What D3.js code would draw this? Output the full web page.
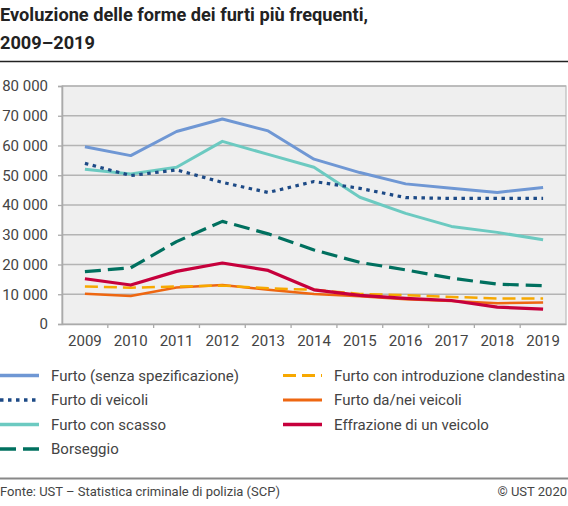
<!DOCTYPE html>
<html>
<head>
<meta charset="utf-8">
<script src="https://cdn.jsdelivr.net/npm/d3@7"></script>
<style>
  body { margin: 0; background: #fff; }
  svg { font-family: Roboto, "Noto Sans", sans-serif; display: block; }
</style>
</head>
<body>
<div id="chart"></div>
<script>
var width = 568,
    height = 506;

var years = [2009, 2010, 2011, 2012, 2013, 2014, 2015, 2016, 2017, 2018, 2019];
var yTicks = [0, 10000, 20000, 30000, 40000, 50000, 60000, 70000, 80000];

// values
var furtoSenza      = [59600, 56600, 64700, 68900, 64900, 55400, 50900, 47100, 45600, 44200, 45900];
var furtoVeicoli    = [54000, 49900, 51800, 47600, 44200, 47900, 45600, 42500, 42200, 42200, 42200];
var furtoScasso     = [52000, 50400, 52700, 61400, 57000, 52700, 42600, 37200, 32800, 30800, 28300];
var borseggio       = [17600, 18900, 27700, 34500, 30300, 24900, 20700, 18200, 15400, 13400, 12900];
var introduzione    = [12600, 12200, 12600, 12900, 12000, 11500, 10100, 9700, 9100, 8600, 8600];
var daNeiVeicoli    = [10200, 9400, 12300, 13100, 11500, 10100, 9300, 8300, 7700, 7000, 7200];
var effrazione      = [15200, 13100, 17700, 20500, 18000, 11500, 9600, 8600, 7900, 5700, 5000];

var seriesNames = ["Furto (senza spezificazione)", "Furto di veicoli", "Furto con scasso", "Borseggio",
                   "Furto con introduzione clandestina", "Furto da/nei veicoli", "Effrazione di un veicolo"];

var series = [
  {name: seriesNames[0], values: furtoSenza,   color: "#6f97d4", w: 3,   dash: null},
  {name: seriesNames[1], values: furtoVeicoli, color: "#1d4a86", w: 3.2, dash: "3.5,4.5"},
  {name: seriesNames[2], values: furtoScasso,  color: "#6ccac1", w: 3,   dash: null},
  {name: seriesNames[3], values: borseggio,    color: "#00705f", w: 3.2, dash: "16,7"},
  {name: seriesNames[4], values: introduzione, color: "#f7a800", w: 2.5, dash: "13,6"},
  {name: seriesNames[5], values: daNeiVeicoli, color: "#ee6711", w: 2.5, dash: null},
  {name: seriesNames[6], values: effrazione,   color: "#c6003c", w: 3.2, dash: null}
];

// drawing order (back to front)
var drawOrder = [5, 4, 6, 3, 2, 1, 0];

var plotLeft = 62, plotRight = 566, plotTop = 86, plotBottom = 324;

var svg = d3.select("#chart").append("svg")
    .attr("width", width)
    .attr("height", height);

// title
var title = svg.append("text")
    .attr("x", 0)
    .attr("fill", "#222")
    .attr("font-size", "18.2px")
    .attr("font-weight", "bold");
title.append("tspan").attr("x", 0).attr("y", 21).text("Evoluzione delle forme dei furti più frequenti,");
title.append("tspan").attr("x", 0).attr("y", 49).text("2009\u20132019");

svg.append("line")
    .attr("x1", 0).attr("x2", width)
    .attr("y1", 61.5).attr("y2", 61.5)
    .attr("stroke", "#222").attr("stroke-width", 1.3);

var x = d3.scaleBand()
    .domain(years)
    .range([plotLeft, plotRight]);

var y = d3.scaleLinear()
    .domain([0, 80000])
    .range([plotBottom, plotTop]);

// plot background
svg.append("rect")
    .attr("x", plotLeft).attr("y", plotTop)
    .attr("width", plotRight - plotLeft).attr("height", plotBottom - plotTop)
    .attr("fill", "#efefef")
    .attr("stroke", "#bbb")
    .attr("stroke-width", 1.2);

// grid
svg.append("g")
  .selectAll("line")
  .data(yTicks.slice(1))
  .join("line")
    .attr("x1", plotLeft).attr("x2", plotRight)
    .attr("y1", d => y(d)).attr("y2", d => y(d))
    .attr("stroke", "#b4b4b4")
    .attr("stroke-width", 1.3);

var fmt = function(d) { return d3.format(",")(d).replace(/,/g, " "); };

var yAxis = svg.append("g")
    .attr("transform", "translate(" + plotLeft + ",0)")
    .call(d3.axisLeft(y).tickValues(yTicks).tickFormat(fmt).tickSize(4).tickPadding(10));

var xAxis = svg.append("g")
    .attr("transform", "translate(0," + plotBottom + ")")
    .call(d3.axisBottom(x).tickSize(0).tickPadding(11));

[yAxis, xAxis].forEach(function(a) {
  a.select(".domain").attr("stroke", "#aaa").attr("stroke-width", 1.6);
  a.selectAll(".tick line").attr("stroke", "#aaa").attr("stroke-width", 1.3);
  a.selectAll("text")
    .attr("fill", "#444")
    .attr("font-size", "15px")
    .attr("font-family", "Roboto, 'Noto Sans', sans-serif");
});

// x tick marks at band boundaries
svg.append("g")
  .selectAll("line")
  .data(years.slice(1))
  .join("line")
    .attr("x1", d => x(d)).attr("x2", d => x(d))
    .attr("y1", plotBottom).attr("y2", plotBottom + 4)
    .attr("stroke", "#aaa").attr("stroke-width", 1.3);

var line = d3.line()
    .x((d, i) => x(years[i]) + x.bandwidth() / 2)
    .y(d => y(d));

svg.append("g")
  .selectAll("path")
  .data(drawOrder.map(i => series[i]))
  .join("path")
    .attr("d", d => line(d.values))
    .attr("fill", "none")
    .attr("stroke", d => d.color)
    .attr("stroke-width", d => d.w)
    .attr("stroke-dasharray", d => d.dash)
    .attr("stroke-linejoin", "round");

// legend
var legendRows = [375.5, 400, 424.5, 449];
var legend = svg.append("g")
  .selectAll("g")
  .data(series)
  .join("g")
    .attr("transform", function(d, i) {
      var col = i < 4 ? 0 : 1;
      var row = i < 4 ? i : i - 4;
      return "translate(" + (col ? 283 : 0) + "," + legendRows[row] + ")";
    });

legend.append("line")
    .attr("x1", 0).attr("x2", 39)
    .attr("stroke", d => d.color)
    .attr("stroke-width", d => d.w + 0.3)
    .attr("stroke-dasharray", d => d.dash);

legend.append("text")
    .attr("x", 51)
    .attr("dy", "0.35em")
    .attr("fill", "#444")
    .attr("font-size", "15px")
    .text(d => d.name);

// footer
svg.append("line")
    .attr("x1", 0).attr("x2", width)
    .attr("y1", 478.5).attr("y2", 478.5)
    .attr("stroke", "#888").attr("stroke-width", 2);

svg.append("text")
    .attr("x", 0).attr("y", 495.5)
    .attr("fill", "#444")
    .attr("font-size", "13px")
    .text("Fonte: UST \u2013 Statistica criminale di polizia (SCP)");

svg.append("text")
    .attr("x", width - 1).attr("y", 495.5)
    .attr("text-anchor", "end")
    .attr("fill", "#444")
    .attr("font-size", "13px")
    .text("\u00a9 UST 2020");
</script>
</body>
</html>
